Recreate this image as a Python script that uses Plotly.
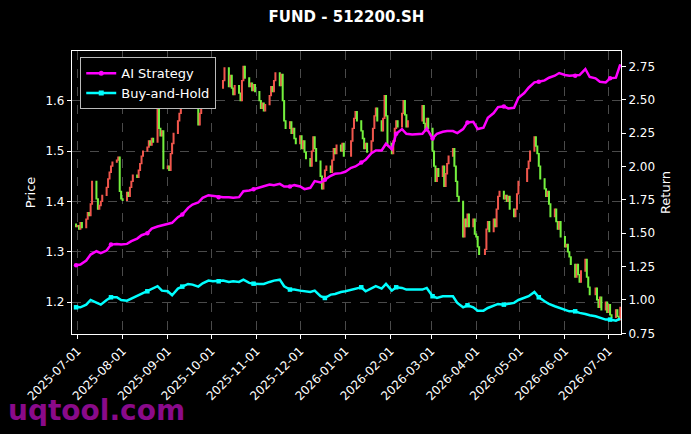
import pandas as pd
import plotly.graph_objects as go

TITLE = "FUND - 512200.SH"

# ---- daily closing prices (trading days), one row per month ----
first_open = 1.355
close = [
    1.350,  # 2025-06-30
    1.352, 1.345, 1.358, 1.348, 1.365, 1.378, 1.372, 1.395, 1.440, 1.405, 1.385, 1.392,
    1.400, 1.412, 1.428, 1.445, 1.458, 1.470, 1.478, 1.482, 1.488, 1.420, 1.405,  # Jul
    1.402, 1.418, 1.410, 1.428, 1.440, 1.452, 1.448, 1.462, 1.475, 1.490, 1.500, 1.508,
    1.520, 1.512, 1.525, 1.518, 1.588, 1.545, 1.530, 1.540, 1.465,  # Aug
    1.470, 1.462, 1.495, 1.515, 1.535, 1.560, 1.575, 1.590, 1.605, 1.598, 1.612, 1.620,
    1.605, 1.618, 1.610, 1.552, 1.575, 1.600, 1.615, 1.628, 1.620, 1.625,  # Sep
    1.640, 1.665, 1.628, 1.650, 1.625, 1.612, 1.630, 1.615, 1.600, 1.640, 1.668, 1.645,
    1.628, 1.635, 1.620, 1.632, 1.618,  # Oct
    1.600, 1.585, 1.595, 1.580, 1.592, 1.610, 1.628, 1.618, 1.640, 1.655, 1.630, 1.652,
    1.600, 1.560, 1.545, 1.558, 1.535, 1.545, 1.525, 1.515,  # Nov
    1.530, 1.505, 1.520, 1.498, 1.485, 1.470, 1.500, 1.528, 1.505, 1.480, 1.450, 1.425,
    1.445, 1.462, 1.470, 1.458, 1.482, 1.505, 1.495, 1.512, 1.500, 1.515, 1.490,  # Dec
    1.520, 1.545, 1.565, 1.578, 1.560, 1.540, 1.525, 1.505, 1.515, 1.498, 1.520, 1.545,
    1.570, 1.585, 1.560, 1.540, 1.565, 1.610, 1.570, 1.515,  # Jan
    1.495, 1.520, 1.545, 1.560, 1.548, 1.575, 1.600, 1.572, 1.548, 1.560, 1.590, 1.555,
    1.540, 1.565, 1.545,  # Feb
    1.500, 1.470, 1.440, 1.465, 1.450, 1.470, 1.430, 1.455, 1.475, 1.490, 1.505, 1.470,
    1.440, 1.410, 1.400, 1.330, 1.365, 1.350, 1.375, 1.350, 1.365, 1.335,  # Mar
    1.330, 1.310, 1.295, 1.305, 1.345, 1.360, 1.340, 1.365, 1.350, 1.385, 1.410, 1.420,
    1.405, 1.412, 1.400, 1.410, 1.385, 1.370, 1.385, 1.415, 1.440,  # Apr
    1.465, 1.480, 1.500, 1.528, 1.510, 1.495, 1.470, 1.445, 1.425, 1.410, 1.420, 1.395,
    1.370, 1.385, 1.360, 1.345, 1.360, 1.330,  # May
    1.310, 1.315, 1.300, 1.290, 1.275, 1.250, 1.275, 1.255, 1.240, 1.262, 1.285, 1.250,
    1.230, 1.215, 1.228, 1.205, 1.190, 1.210, 1.185, 1.200, 1.180,  # Jun
    1.195, 1.175, 1.170, 1.185, 1.172, 1.165, 1.190,  # Jul 2026
]

holidays = ["2025-10-01", "2025-10-02", "2025-10-03", "2025-10-06", "2025-10-07", "2025-10-08",
            "2026-01-01", "2026-01-02", "2026-02-16", "2026-02-17", "2026-02-18", "2026-02-19",
            "2026-02-20", "2026-04-06", "2026-05-01", "2026-05-04", "2026-05-05", "2026-06-19"]

# ---- strategy curves (Mon / Thu samples) ----
ai_strategy = [
    1.26, 1.265, 1.295, 1.34, 1.365, 1.35, 1.37, 1.415, 1.42, 1.415,
    1.42, 1.44, 1.46, 1.485, 1.50, 1.535, 1.55, 1.56,
    1.57, 1.578, 1.62, 1.64, 1.69, 1.715, 1.73, 1.765, 1.785,
    1.78, 1.77, 1.77, 1.77, 1.765, 1.77, 1.815, 1.82, 1.83,
    1.845, 1.85, 1.865, 1.86, 1.87, 1.85, 1.85, 1.86,
    1.85, 1.83, 1.84, 1.89, 1.88, 1.90, 1.93, 1.945, 1.95,
    1.96, 1.99, 2.0, 2.03, 2.05, 2.10, 2.12, 2.12, 2.17,
    2.13, 2.245, 2.28, 2.245, 2.24, 2.24, 2.245, 2.285,
    2.21, 2.245, 2.26, 2.265, 2.265, 2.25, 2.28, 2.33, 2.335,
    2.28, 2.29, 2.365, 2.40, 2.445, 2.45, 2.435, 2.44, 2.515,
    2.55, 2.59, 2.63, 2.635, 2.645, 2.665, 2.68, 2.70,
    2.685, 2.68, 2.68, 2.685, 2.73, 2.67, 2.66, 2.635, 2.63,
    2.66, 2.665, 2.765,
]
buy_and_hold = [
    0.945, 0.945, 0.965, 1.0, 0.98, 0.965, 1.0, 1.02, 1.02, 1.0,
    0.995, 1.01, 1.03, 1.045, 1.065, 1.078, 1.103, 1.07,
    1.065, 1.035, 1.085, 1.10, 1.12, 1.115, 1.10, 1.125, 1.145,
    1.14, 1.14, 1.145, 1.135, 1.14, 1.135, 1.152, 1.128, 1.122,
    1.12, 1.12, 1.135, 1.145, 1.152, 1.103, 1.078, 1.078,
    1.07, 1.065, 1.06, 1.07, 1.028, 1.015, 1.04, 1.045, 1.06,
    1.065, 1.078, 1.085, 1.095, 1.065, 1.085, 1.103, 1.085, 1.12,
    1.07, 1.095, 1.09, 1.078, 1.078, 1.078, 1.078, 1.09,
    1.028, 1.015, 1.028, 1.028, 1.028, 0.978, 0.945, 0.96, 0.945,
    0.92, 0.92, 0.94, 0.96, 0.97, 0.965, 0.97, 0.978, 1.0,
    1.015, 1.028, 1.06, 1.02, 0.99, 0.97, 0.953, 0.94,
    0.928, 0.915, 0.915, 0.903, 0.895, 0.885, 0.878, 0.865, 0.853,
    0.853, 0.845, 0.86,
]

month_ticks = ["2025-07-01", "2025-08-01", "2025-09-01", "2025-10-01", "2025-11-01", "2025-12-01",
               "2026-01-01", "2026-02-01", "2026-03-01", "2026-04-01", "2026-05-01", "2026-06-01",
               "2026-07-01"]
price_ticks = [1.2, 1.3, 1.4, 1.5, 1.6]
return_ticks = [0.75, 1.00, 1.25, 1.50, 1.75, 2.00, 2.25, 2.50, 2.75]

# ---- build derived tables ----
bd = pd.bdate_range("2025-06-30", "2026-07-09")
trade_dates = [d for d in bd if d.strftime("%Y-%m-%d") not in holidays]
assert len(trade_dates) == len(close), (len(trade_dates), len(close))
opens = [first_open] + close[:-1]
highs = [max(o, c) for o, c in zip(opens, close)]
lows = [min(o, c) for o, c in zip(opens, close)]

line_dates = sorted(list(pd.date_range("2025-06-30", "2026-07-09", freq="W-MON")) +
                    list(pd.date_range("2025-06-30", "2026-07-09", freq="W-THU")))
assert len(line_dates) == len(ai_strategy) == len(buy_and_hold)
mark_idx = list(range(0, len(line_dates), 7))

MAG, CYA = "#ff00ff", "#00ffff"

fig = go.Figure()
fig.add_trace(go.Candlestick(
    x=trade_dates, open=opens, high=highs, low=lows, close=close,
    increasing=dict(line=dict(color="#f0564c", width=1.3), fillcolor="#f0564c"),
    decreasing=dict(line=dict(color="#74f03e", width=1.3), fillcolor="#74f03e"),
    whiskerwidth=0, showlegend=False, hoverinfo="skip", yaxis="y"))
for name, vals, col, sym in [("AI Strategy", ai_strategy, MAG, "circle"),
                             ("Buy-and-Hold", buy_and_hold, CYA, "square")]:
    fig.add_trace(go.Scatter(x=line_dates, y=vals, mode="lines", showlegend=False,
                             line=dict(color=col, width=2.5), yaxis="y2"))
    fig.add_trace(go.Scatter(x=[line_dates[i] for i in mark_idx], y=[vals[i] for i in mark_idx],
                             mode="markers", showlegend=False, yaxis="y2",
                             marker=dict(symbol=sym, size=4.5, color=col, line=dict(width=0))))
    fig.add_trace(go.Scatter(x=[None], y=[None], mode="lines+markers", name=name, yaxis="y2",
                             line=dict(color=col, width=2.5),
                             marker=dict(symbol=sym, size=5, color=col, line=dict(width=0))))

font = "DejaVu Sans"
grid = dict(showgrid=True, gridcolor="#4a4a4a", griddash="dash", gridwidth=0.6)
fig.update_layout(
    width=691, height=434,
    margin=dict(l=72, r=70, t=51, b=100, autoexpand=False),
    paper_bgcolor="black", plot_bgcolor="black",
    font=dict(family=font, color="white", size=12),
    title=dict(text="<b>" + TITLE + "</b>", x=0.5, xanchor="center", xref="paper",
               yref="container", y=0.961, yanchor="middle",
               font=dict(size=15, color="white", family=font)),
    xaxis=dict(type="date", range=["2025-06-27 05:00", "2026-07-09 12:00"], automargin=False,
               tickvals=month_ticks, ticktext=month_ticks, tickangle=-45,
               showline=True, linecolor="white", linewidth=1.2, mirror=True,
               ticks="outside", ticklen=4, tickcolor="white",
               rangeslider=dict(visible=False), zeroline=False,
               tickfont=dict(size=12, color="white"), **grid),
    yaxis=dict(range=[1.137, 1.6986], tickvals=price_ticks, tickformat=".1f", automargin=False,
               title=dict(text="Price", font=dict(size=13, color="white"), standoff=6),
               showline=True, linecolor="white", linewidth=1.2, mirror=True,
               ticks="outside", ticklen=4, tickcolor="white", zeroline=False,
               tickfont=dict(size=12, color="white"), **grid),
    yaxis2=dict(range=[0.745, 2.865], overlaying="y", side="right", tickvals=return_ticks,
                tickformat=".2f", showgrid=False, zeroline=False, automargin=False,
                title=dict(text="Return", font=dict(size=13, color="white"), standoff=6),
                ticks="outside", ticklen=4, tickcolor="white",
                tickfont=dict(size=12, color="white")),
    legend=dict(x=0.015, y=0.978, xanchor="left", yanchor="top",
                bgcolor="black", bordercolor="#bbbbbb", borderwidth=1,
                font=dict(size=13, color="white"), itemwidth=30, tracegroupgap=2),
    showlegend=True,
    annotations=[dict(text="<b>uqtool.com</b>", xref="paper", yref="paper",
                      x=0.0455, y=-0.27, xanchor="center", yanchor="middle", showarrow=False,
                      font=dict(size=28, color="#8a0a8a", family=font))],
)

fig.write_html("out.html", config={"displayModeBar": False},
               post_script="document.body.style.margin='0';")
